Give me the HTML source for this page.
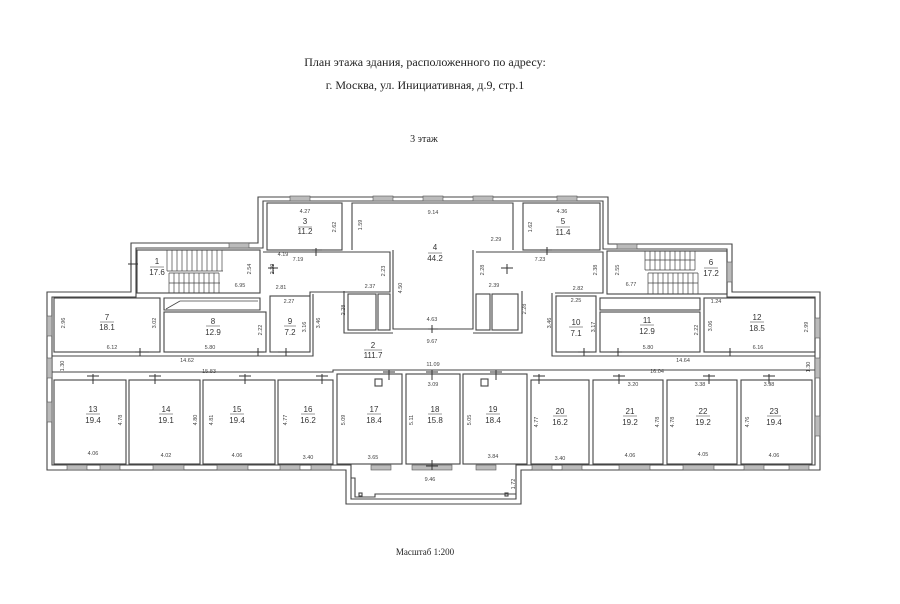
<!DOCTYPE html>
<html><head><meta charset="utf-8"><style>
body{margin:0;background:#fff}
svg{display:block}
.t{font-family:"Liberation Serif",serif;fill:#222}
.d{font-family:"Liberation Sans",sans-serif;font-size:5.5px;fill:#444;text-anchor:middle}
.l{font-family:"Liberation Sans",sans-serif;font-size:8px;fill:#333;text-anchor:middle}
.w{fill:none;stroke:#444;stroke-width:1.1}
.win{fill:#bbb;stroke:#555;stroke-width:0.6}
</style></head><body>
<svg width="900" height="604" viewBox="0 0 900 604" xmlns="http://www.w3.org/2000/svg">
<rect width="900" height="604" fill="#fff"/>
<text class="t" x="425" y="66" font-size="12" text-anchor="middle">План этажа здания, расположенного по адресу:</text>
<text class="t" x="425" y="89" font-size="12" text-anchor="middle">г. Москва, ул. Инициативная, д.9, стр.1</text>
<text class="t" x="424" y="142" font-size="10" text-anchor="middle">3 этаж</text>
<text class="t" x="425" y="555" font-size="9" text-anchor="middle">Масштаб 1:200</text>

<!-- outer walls -->
<polygon class="w" points="258,197 608,197 608,244 732,244 732,292 820,292 820,470 521,470 521,504 346,504 346,470 47,470 47,292 131,292 131,243 258,243"/>
<polygon class="w" points="263,201 603,201 603,249 727,249 727,297 815,297 815,465 516,465 516,499 351,499 351,465 52,465 52,297 136,297 136,248 263,248"/>
<!-- porch detail -->
<polyline class="w" points="351,478 355,478 355,497 375,497 375,494 516,494"/>
<rect class="w" x="359" y="493" width="3" height="3"/>
<rect class="w" x="505" y="493" width="3" height="3"/>

<!-- top rooms -->
<rect class="w" x="267" y="203" width="75" height="47"/>
<polyline class="w" points="352,250 352,203 513,203 513,250"/>
<polyline class="w" points="393,250 393,329 473,329 473,250"/>
<rect class="w" x="523" y="203" width="77" height="47"/>
<!-- corridor boundaries around top -->
<polyline class="w" points="263,252 390,252 390,292 310,292 310,296"/>
<polyline class="w" points="476,252 603,252 603,293 555,293"/>
<!-- stairs -->
<rect class="w" x="137" y="250" width="123" height="43"/>
<rect class="w" x="607" y="251" width="120" height="43"/>
<g stroke="#444" stroke-width="0.7">
<path d="M167,250v21M172,250v21M177,250v21M182,250v21M187,250v21M192,250v21M197,250v21M202,250v21M207,250v21M212,250v21M217,250v21M222,250v21M167,271h56"/>
<path d="M169,273v20M174,273v20M179,273v20M184,273v20M189,273v20M194,273v20M199,273v20M204,273v20M209,273v20M214,273v20M219,273v20M169,273h50M169,283h51"/>
<path d="M645,251v19M650,251v19M655,251v19M660,251v19M665,251v19M670,251v19M675,251v19M680,251v19M685,251v19M690,251v19M695,251v19M645,270h50M645,260h50"/>
<path d="M648,273v21M653,273v21M658,273v21M663,273v21M668,273v21M673,273v21M678,273v21M683,273v21M688,273v21M693,273v21M698,273v21M648,273h50M648,283h50"/>
</g>
<!-- left wing rooms -->
<rect class="w" x="54" y="298" width="106" height="54"/>
<rect class="w" x="164" y="312" width="102" height="40"/>
<polygon class="w" points="164,298 260,298 260,310 164,310"/>
<line x1="166" y1="309" x2="180" y2="301" stroke="#444" stroke-width="0.8"/>
<line x1="180" y1="301" x2="258" y2="301" stroke="#444" stroke-width="0.8"/>
<rect class="w" x="270" y="296" width="40" height="56"/>
<polyline class="w" points="313,294 313,356 52,356"/>
<rect class="w" x="348" y="294" width="28" height="36"/>
<rect class="w" x="378" y="294" width="12" height="36"/>
<polyline class="w" points="344,291 344,333 393,333"/>
<!-- right wing rooms -->
<rect class="w" x="556" y="296" width="40" height="56"/>
<rect class="w" x="600" y="312" width="100" height="40"/>
<rect class="w" x="600" y="298" width="100" height="12"/>
<rect class="w" x="704" y="298" width="111" height="54"/>
<polyline class="w" points="552,293 552,356 815,356"/>
<rect class="w" x="476" y="294" width="14" height="36"/>
<rect class="w" x="492" y="294" width="26" height="36"/>
<polyline class="w" points="473,333 522,333 522,291"/>
<!-- corridor lower line -->
<polyline class="w" points="52,372 333,372 333,370 815,370"/>
<!-- bottom rooms -->
<rect class="w" x="54" y="380" width="72" height="84"/>
<rect class="w" x="129" y="380" width="71" height="84"/>
<rect class="w" x="203" y="380" width="72" height="84"/>
<rect class="w" x="278" y="380" width="55" height="84"/>
<rect class="w" x="337" y="374" width="65" height="90"/>
<rect class="w" x="406" y="374" width="54" height="90"/>
<rect class="w" x="463" y="374" width="64" height="90"/>
<rect class="w" x="531" y="380" width="58" height="84"/>
<rect class="w" x="593" y="380" width="70" height="84"/>
<rect class="w" x="667" y="380" width="70" height="84"/>
<rect class="w" x="741" y="380" width="71" height="84"/>
<rect class="w" x="375" y="379" width="7" height="7"/>
<rect class="w" x="481" y="379" width="7" height="7"/>

<!-- windows -->
<g class="win">
<rect x="290" y="196" width="20" height="5"/><rect x="373" y="196" width="20" height="5"/><rect x="423" y="196" width="20" height="5"/><rect x="473" y="196" width="20" height="5"/><rect x="557" y="196" width="20" height="5"/>
<rect x="229" y="243" width="20" height="5"/><rect x="617" y="244" width="20" height="5"/>
<rect x="727" y="262" width="5" height="20"/>
<rect x="47" y="316" width="5" height="20"/><rect x="47" y="358" width="5" height="20"/><rect x="47" y="402" width="5" height="20"/>
<rect x="815" y="318" width="5" height="20"/><rect x="815" y="358" width="5" height="20"/><rect x="815" y="416" width="5" height="20"/>
<rect x="67" y="465" width="20" height="5"/><rect x="100" y="465" width="20" height="5"/><rect x="153" y="465" width="31" height="5"/><rect x="217" y="465" width="31" height="5"/><rect x="280" y="465" width="20" height="5"/><rect x="311" y="465" width="20" height="5"/><rect x="371" y="465" width="20" height="5"/><rect x="412" y="465" width="40" height="5"/><rect x="476" y="465" width="20" height="5"/><rect x="532" y="465" width="20" height="5"/><rect x="562" y="465" width="20" height="5"/><rect x="619" y="465" width="31" height="5"/><rect x="683" y="465" width="31" height="5"/><rect x="744" y="465" width="20" height="5"/><rect x="789" y="465" width="20" height="5"/>
</g>
<!-- door ticks -->
<g stroke="#333" stroke-width="1">
<path d="M128,264h10M131,260v10M268,268h10M273,264v10M316,248v8M312,250h10M547,247v8M540,250h12M501,268h12M507,264v10M135,352h14M140,348v8M250,352h14M258,348v8M278,352h12M286,348v8M578,352h12M584,348v8M610,352h12M618,348v8M720,352h12M730,348v8M432,325v8M428,329h10"/>
<path d="M93,374v10M87,376h12M155,374v10M149,376h12M245,374v10M239,376h12M322,374v10M316,376h12M389,370v10M383,372h12M432,370v10M426,372h12M496,370v10M490,372h12M539,374v10M533,376h12M619,374v10M613,376h12M709,374v10M703,376h12M769,374v10M763,376h12M432,460v10M426,466h12"/>
</g>

<!-- room labels -->
<g class="l">
<text x="157" y="264">1</text><text x="157" y="275">17.6</text>
<text x="305" y="224">3</text><text x="305" y="234">11.2</text>
<text x="435" y="250">4</text><text x="435" y="261">44.2</text>
<text x="563" y="224">5</text><text x="563" y="235">11.4</text>
<text x="711" y="265">6</text><text x="711" y="276">17.2</text>
<text x="107" y="320">7</text><text x="107" y="330">18.1</text>
<text x="213" y="324">8</text><text x="213" y="335">12.9</text>
<text x="290" y="324">9</text><text x="290" y="335">7.2</text>
<text x="373" y="348">2</text><text x="373" y="358">111.7</text>
<text x="576" y="325">10</text><text x="576" y="336">7.1</text>
<text x="647" y="323">11</text><text x="647" y="334">12.9</text>
<text x="757" y="320">12</text><text x="757" y="331">18.5</text>
<text x="93" y="412">13</text><text x="93" y="423">19.4</text>
<text x="166" y="412">14</text><text x="166" y="423">19.1</text>
<text x="237" y="412">15</text><text x="237" y="423">19.4</text>
<text x="308" y="412">16</text><text x="308" y="423">16.2</text>
<text x="374" y="412">17</text><text x="374" y="423">18.4</text>
<text x="435" y="412">18</text><text x="435" y="423">15.8</text>
<text x="493" y="412">19</text><text x="493" y="423">18.4</text>
<text x="560" y="414">20</text><text x="560" y="425">16.2</text>
<text x="630" y="414">21</text><text x="630" y="425">19.2</text>
<text x="703" y="414">22</text><text x="703" y="425">19.2</text>
<text x="774" y="414">23</text><text x="774" y="425">19.4</text>
</g>
<g stroke="#333" stroke-width="0.6">
<path d="M150,267h14M298,227h14M428,253h14M556,227h14M704,268h14M100,322h14M206,326h14M284,326h12M364,350h18M569,327h14M640,325h14M750,322h14M86,414h14M159,414h14M230,414h14M301,414h14M367,414h14M428,414h14M486,414h14M553,416h14M623,416h14M696,416h14M767,416h14"/>
</g>

<!-- dimensions -->
<g class="d">
<text x="305" y="213">4.27</text><text x="433" y="214">9.14</text><text x="562" y="213">4.36</text>
<text x="283" y="256">4.19</text><text x="298" y="261">7.19</text><text x="240" y="287">6.95</text>
<text x="281" y="289">2.81</text><text x="370" y="288">2.37</text><text x="496" y="241">2.29</text>
<text x="540" y="261">7.23</text><text x="494" y="287">2.39</text><text x="578" y="290">2.82</text><text x="631" y="286">6.77</text>
<text x="289" y="303">2.27</text><text x="576" y="302">2.25</text><text x="716" y="303">1.24</text>
<text x="432" y="321">4.63</text><text x="432" y="343">9.67</text>
<text x="112" y="349">6.12</text><text x="210" y="349">5.80</text><text x="648" y="349">5.80</text><text x="758" y="349">6.16</text>
<text x="187" y="362">14.62</text><text x="683" y="362">14.64</text><text x="433" y="366">11.09</text>
<text x="209" y="373">15.83</text><text x="657" y="373">16.04</text>
<text x="433" y="386">3.09</text><text x="633" y="386">3.20</text><text x="700" y="386">3.38</text><text x="769" y="386">3.98</text>
<text x="93" y="455">4.06</text><text x="166" y="457">4.02</text><text x="237" y="457">4.06</text><text x="308" y="459">3.40</text><text x="373" y="459">3.65</text><text x="493" y="458">3.84</text><text x="560" y="460">3.40</text><text x="630" y="457">4.06</text><text x="703" y="456">4.05</text><text x="774" y="457">4.06</text>
<text x="430" y="481">9.46</text>
</g>
<g class="d">
<text transform="translate(336,227) rotate(-90)">2.62</text>
<text transform="translate(362,225) rotate(-90)">1.59</text>
<text transform="translate(532,227) rotate(-90)">1.62</text>
<text transform="translate(251,269) rotate(-90)">2.54</text>
<text transform="translate(274,269) rotate(-90)">2.39</text>
<text transform="translate(385,271) rotate(-90)">2.23</text>
<text transform="translate(402,288) rotate(-90)">4.50</text>
<text transform="translate(484,270) rotate(-90)">2.28</text>
<text transform="translate(597,270) rotate(-90)">2.38</text>
<text transform="translate(619,270) rotate(-90)">2.55</text>
<text transform="translate(345,310) rotate(-90)">2.28</text>
<text transform="translate(526,309) rotate(-90)">2.28</text>
<text transform="translate(65,323) rotate(-90)">2.96</text>
<text transform="translate(156,323) rotate(-90)">3.02</text>
<text transform="translate(262,330) rotate(-90)">2.22</text>
<text transform="translate(306,327) rotate(-90)">3.16</text>
<text transform="translate(320,323) rotate(-90)">3.46</text>
<text transform="translate(551,323) rotate(-90)">3.46</text>
<text transform="translate(595,327) rotate(-90)">3.17</text>
<text transform="translate(698,330) rotate(-90)">2.22</text>
<text transform="translate(712,326) rotate(-90)">3.06</text>
<text transform="translate(808,327) rotate(-90)">2.99</text>
<text transform="translate(64,366) rotate(-90)">1.30</text>
<text transform="translate(810,367) rotate(-90)">1.30</text>
<text transform="translate(122,420) rotate(-90)">4.78</text>
<text transform="translate(197,420) rotate(-90)">4.80</text>
<text transform="translate(213,420) rotate(-90)">4.81</text>
<text transform="translate(287,420) rotate(-90)">4.77</text>
<text transform="translate(345,420) rotate(-90)">5.09</text>
<text transform="translate(413,420) rotate(-90)">5.11</text>
<text transform="translate(471,420) rotate(-90)">5.05</text>
<text transform="translate(538,422) rotate(-90)">4.77</text>
<text transform="translate(659,422) rotate(-90)">4.78</text>
<text transform="translate(674,422) rotate(-90)">4.78</text>
<text transform="translate(749,422) rotate(-90)">4.76</text>
<text transform="translate(515,484) rotate(-90)">1.72</text>
</g>
</svg>
</body></html>
